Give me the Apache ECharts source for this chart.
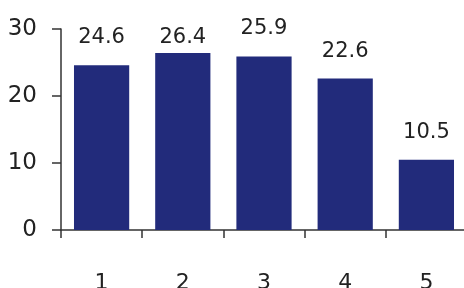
<!DOCTYPE html>
<html>
<head>
<meta charset="utf-8">
<script src="https://cdn.jsdelivr.net/npm/echarts@6/dist/echarts.min.js"></script>
<style>
  html, body { margin: 0; padding: 0; background: #fff; }
  #chart { width: 464px; height: 288px; }
</style>
</head>
<body>
<div id="chart"></div>
<script>
  // categories and values
  const categories = ['1', '2', '3', '4', '5']
  const values = [24.6, 26.4, 25.9, 22.6, 10.5]
  const yTicks = [0, 10, 20, 30]

  const font = 'DejaVu Sans'
  const axisColor = '#333'

  const chart = echarts.init(document.getElementById('chart'))
  chart.setOption({
    animation: false,
    grid: {
      left: 61,
      right: -3,
      top: 29,
      bottom: 58,
      outerBoundsMode: 'none'
    },
    xAxis: {
      type: 'category',
      data: categories,
      axisLine: { lineStyle: { color: axisColor, width: 1.5 } },
      axisTick: { show: true, length: 8, alignWithLabel: false, lineStyle: { color: axisColor, width: 1.5 } },
      axisLabel: { margin: 42, fontFamily: font, fontSize: 22, color: '#222' }
    },
    yAxis: {
      type: 'value',
      min: yTicks[0],
      max: yTicks[yTicks.length - 1],
      interval: 10,
      splitLine: { show: false },
      axisLine: { show: true, lineStyle: { color: axisColor, width: 1.5 } },
      axisTick: { show: true, length: 9, lineStyle: { color: axisColor, width: 1.5 } },
      axisLabel: { margin: 24, fontFamily: font, fontSize: 23, color: '#222' }
    },
    series: [
      {
        type: 'bar',
        barCategoryGap: '32%',
        data: values.map((v, i) => i === 1 ? { value: v, label: { distance: 5 } } : v),
        itemStyle: { color: '#222b7b' },
        label: {
          show: true,
          position: 'top',
          distance: 17,
          fontFamily: font,
          fontSize: 21,
          color: '#222'
        }
      }
    ]
  })
</script>
</body>
</html>
